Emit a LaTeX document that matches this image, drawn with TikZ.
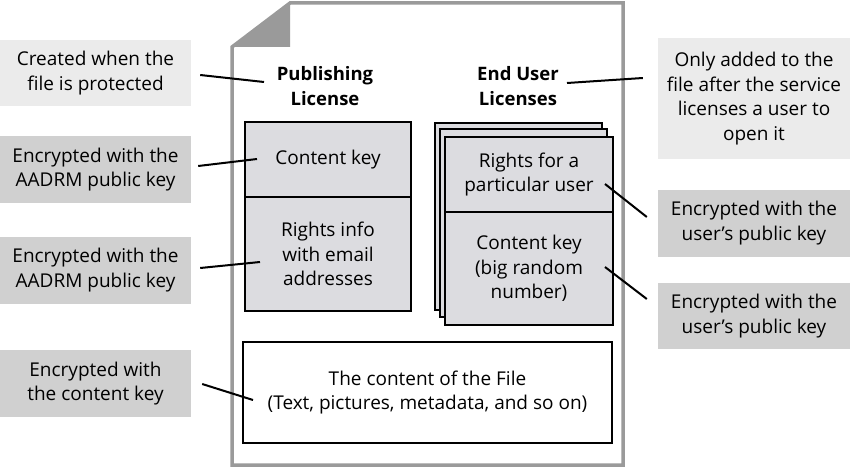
\documentclass[tikz,border=0pt]{standalone}
\usepackage{fontspec}
\setmainfont{Open Sans}
\definecolor{notelight}{HTML}{EBEBEB}
\definecolor{notedark}{HTML}{D0D0D0}
\definecolor{keyfill}{HTML}{DCDCE0}
\definecolor{pagegray}{HTML}{9A9A9A}
\begin{document}
\begin{tikzpicture}[
  x = 1pt, y = -1pt,
  every node/.style = {font = \fontsize{19}{24.5}\selectfont, align = center, inner sep = 0pt},
  note/.style = {minimum width = 191, fill = notedark},
  notel/.style = {note, fill = notelight},
  keybox/.style = {draw, line width = 2pt, fill = keyfill, minimum width = 166},
  sheet/.style = {draw, line width = 2pt, fill = keyfill},
  lead/.style = {line width = 2pt},
  title/.style = {font = \fontsize{18.5}{25}\selectfont\bfseries}
]
\useasboundingbox (0,0) rectangle (850,468);

% the file
\draw[pagegray, line width = 3.5pt, fill = white]
  (232,47) -- (290,3) -- (623,3) -- (623,465) -- (232,465) -- cycle;
\fill[pagegray] (232,47) -- (290,3) -- (290,47) -- cycle;

\node[title] (pubtitle) at (325,86) {Publishing\\License};
\node[title] (eutitle) at (518,86) {End User\\Licenses};

% publishing license
\node[keybox, minimum height = 75] (ckey) at (328,159.5) {Content key};
\node[keybox, minimum height = 114] (rinfo) at (328,254) {Rights info\\with email\\addresses};

% end user licenses (stack)
\draw[sheet] (435,123) rectangle (602,310);
\draw[sheet] (440,129) rectangle (607,317);
\node[keybox, minimum width = 168, minimum height = 75] (rights) at (529,174.5) {Rights for a\\particular user};
\node[keybox, minimum width = 168, minimum height = 113] (ukey) at (529,268.5) {Content key\\(big random\\number)};

\node[draw, line width = 2pt, fill = white, minimum width = 369, minimum height = 101]
  (filebox) at (427.5,392.5) {The content of the File\\(Text, pictures, metadata, and so on)};

% notes left
\node[notel, minimum height = 66] (created) at (95.5,73) {Created when the\\file is protected};
\node[note, minimum height = 67] (aadrmA) at (95.5,169.5) {Encrypted with the\\AADRM public key};
\node[note, minimum height = 67] (aadrmB) at (95.5,270) {Encrypted with the\\AADRM public key};
\node[note, minimum height = 67] (cknote) at (95.5,383.5) {Encrypted with\\the content key};

% notes right
\node[notel, minimum width = 192, minimum height = 121] (added) at (754,98.5)
  {Only added to the\\file after the service\\licenses a user to\\open it};
\node[note, minimum width = 192, minimum height = 67] (userA) at (754,223) {Encrypted with the\\user’s public key};
\node[note, minimum width = 192, minimum height = 66] (userB) at (754,316) {Encrypted with the\\user’s public key};

\coordinate (pubend) at (264,82);
\coordinate (euend) at (567,83);

\draw[lead] ([shift={(9,2)}]created.east) -- (pubend);
\draw[lead] ([shift={(7,-3.5)}]aadrmA.east) -- ([shift={(13,-0.5)}]ckey.west);
\draw[lead] ([shift={(9,-2)}]aadrmB.east) -- ([shift={(16,8)}]rinfo.west);
\draw[lead] ([shift={(11,0.5)}]cknote.east) -- ([shift={(11,7.5)}]filebox.west);
\draw[lead] ([shift={(-15,-20.5)}]added.west) -- (euend);
\draw[lead] ([shift={(-11,-6)}]userA.west) -- ([shift={(-9,9.5)}]rights.east);
\draw[lead] ([shift={(-11,-17)}]userB.west) -- ([shift={(-9,-1.5)}]ukey.east);

\end{tikzpicture}
\end{document}
